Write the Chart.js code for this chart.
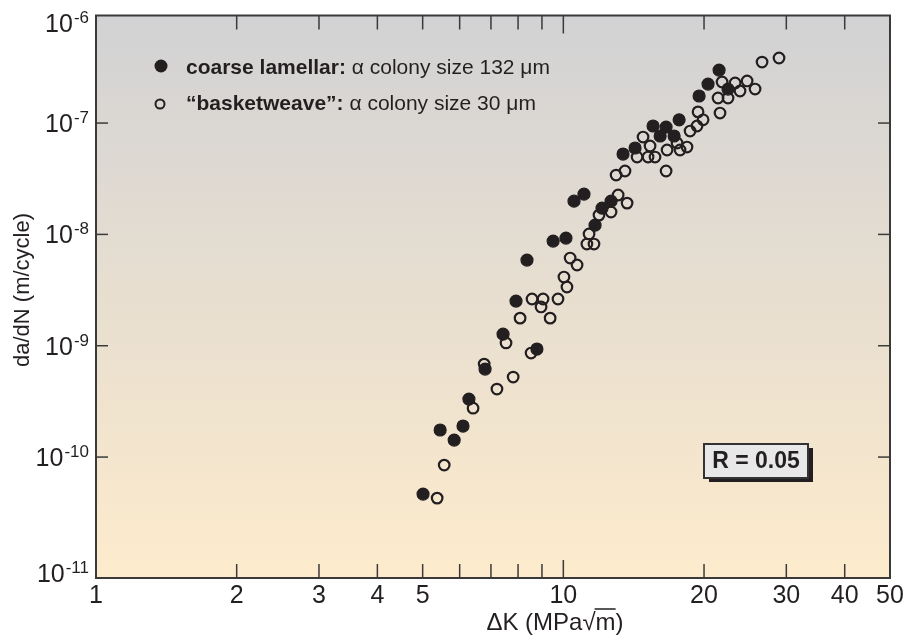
<!DOCTYPE html>
<html>
<head>
<meta charset="utf-8">
<script src="https://cdn.jsdelivr.net/npm/chart.js@4.4.0/dist/chart.umd.min.js"></script>
<style>
  body { margin: 0; background: #fff; }
  #wrap { width: 909px; height: 641px; }
</style>
</head>
<body>
<div id="wrap"><canvas id="crackChart"></canvas></div>
<script>
// coarse lamellar (filled)
const coarseK = [5.01, 5.45, 5.84, 6.10, 6.28, 6.80, 7.43, 8.78, 7.92, 8.36, 9.51, 10.13, 10.54, 11.07,
    11.69, 12.10, 12.65, 13.42, 14.24, 15.56, 16.59, 16.11, 17.26, 17.69, 19.52, 20.40, 21.54, 22.51];
const coarseRate = [4.65e-11, 1.75e-10, 1.42e-10, 1.90e-10, 3.32e-10, 6.17e-10, 1.27e-9, 9.34e-10, 2.52e-9,
    5.88e-9, 8.71e-9, 9.27e-9, 1.99e-8, 2.30e-8, 1.21e-8, 1.72e-8, 1.99e-8, 5.27e-8, 5.97e-8, 9.41e-8,
    9.21e-8, 7.65e-8, 7.65e-8, 1.07e-7, 1.75e-7, 2.24e-7, 2.99e-7, 2.02e-7];

// basketweave (open)
const basketK = [5.37, 5.56, 6.41, 6.77, 7.21, 7.54, 7.81, 8.53, 8.08, 9.37, 8.57, 9.05, 8.96, 9.74, 10.03,
    10.18, 10.34, 10.70, 11.23, 11.63, 11.35, 11.92, 12.65, 13.10, 13.69, 12.97, 13.55, 14.38, 15.18, 15.71,
    15.33, 14.81, 16.67, 17.77, 17.51, 18.39, 16.59, 18.67, 19.32, 19.91, 19.42, 21.64, 21.43, 22.51, 21.86,
    23.31, 24.73, 23.88, 25.72, 26.62, 28.94];
const basketRate = [4.28e-11, 8.47e-11, 2.75e-10, 6.84e-10, 4.08e-10, 1.06e-9, 5.23e-10, 8.60e-10, 1.77e-9,
    1.77e-9, 2.63e-9, 2.63e-9, 2.23e-9, 2.63e-9, 4.14e-9, 3.37e-9, 6.13e-9, 5.31e-9, 8.19e-9, 8.19e-9,
    1.01e-8, 1.49e-8, 1.59e-8, 2.26e-8, 1.91e-8, 3.41e-8, 3.71e-8, 4.95e-8, 4.95e-8, 4.95e-8, 6.22e-8,
    7.49e-8, 5.73e-8, 5.73e-8, 6.62e-8, 6.09e-8, 3.71e-8, 8.48e-8, 9.41e-8, 1.07e-7, 1.26e-7, 1.23e-7,
    1.68e-7, 1.68e-7, 2.34e-7, 2.29e-7, 2.39e-7, 1.94e-7, 2.02e-7, 3.53e-7, 3.84e-7];

const xLabelValues = [1, 2, 3, 4, 5, 10, 20, 30, 40, 50];
const xTickMarks = [2, 3, 4, 5, 6, 7, 8, 9, 10, 20, 30, 40];
const yExponents = [-6, -7, -8, -9, -10, -11];
const yMin = 8.2e-12;
const yMax = 9.25e-7;

const legendBold = ['coarse lamellar:', '\u201cbasketweave\u201d:'];
const legendRest = [' \u03b1 colony size 132 \u03bcm', ' \u03b1 colony size 30 \u03bcm'];
const rText = 'R = 0.05';
const xTitle = ['\u0394K (MPa', '\u221a', 'm', ')'];
const yTitle = 'da/dN (m/cycle)';

const ink = '#231f20';
const fam = '"Liberation Sans", Arial, sans-serif';
Chart.defaults.font.family = fam;

function line(ctx, x1, y1, x2, y2) {
    ctx.beginPath();
    ctx.moveTo(x1, y1);
    ctx.lineTo(x2, y2);
    ctx.stroke();
}

const decorations = {
    id: 'decorations',
    beforeDraw(chart) {
        const { ctx, chartArea: a } = chart;
        const g = ctx.createLinearGradient(0, a.top, 0, a.bottom);
        g.addColorStop(0, '#d2d2d4');
        g.addColorStop(1, '#fdebcc');
        ctx.save();
        ctx.fillStyle = g;
        ctx.fillRect(a.left, a.top, a.right - a.left, a.bottom - a.top);
        ctx.restore();
    },
    afterDraw(chart) {
        const { ctx, chartArea: a } = chart;
        const xs = chart.scales.x, ys = chart.scales.y;
        ctx.save();

        // frame
        ctx.strokeStyle = '#3a3a3a';
        ctx.lineWidth = 2;
        ctx.strokeRect(a.left, a.top, a.right - a.left, a.bottom - a.top);

        // inward ticks
        ctx.lineWidth = 1.5;
        xTickMarks.forEach(v => {
            const len = v === 10 ? 18 : 14;
            const px = xs.getPixelForValue(v);
            line(ctx, px, a.bottom, px, a.bottom - len);
            line(ctx, px, a.top, px, a.top + len);
        });
        yExponents.forEach(e => {
            const py = ys.getPixelForValue(Math.pow(10, e));
            if (py < a.top + 12 || py > a.bottom - 12) return;
            line(ctx, a.left, py, a.left + 12, py);
            line(ctx, a.right, py, a.right - 12, py);
        });

        // y labels 10^n, the end ones pinned inside the frame
        ctx.fillStyle = ink;
        ctx.textAlign = 'right';
        ctx.textBaseline = 'alphabetic';
        yExponents.forEach(e => {
            let cy = ys.getPixelForValue(Math.pow(10, e));
            if (cy < a.top + 12) cy = a.top + 7;
            if (cy > a.bottom - 12) cy = a.bottom - 5;
            const sup = String(e);
            ctx.font = '17px ' + fam;
            const supW = ctx.measureText(sup).width;
            ctx.fillText(sup, 89, cy);
            ctx.font = '25px ' + fam;
            ctx.fillText('10', 89 - supW - 1, cy + 9);
        });

        // legend
        ctx.textAlign = 'left';
        ctx.beginPath();
        ctx.arc(161, 66, 6.5, 0, Math.PI * 2);
        ctx.fill();
        ctx.strokeStyle = ink;
        ctx.lineWidth = 2;
        ctx.beginPath();
        ctx.arc(160, 104, 4.5, 0, Math.PI * 2);
        ctx.stroke();
        [73.5, 109.5].forEach((by, i) => {
            ctx.font = 'bold 21px ' + fam;
            ctx.fillText(legendBold[i], 186, by);
            const w = ctx.measureText(legendBold[i]).width;
            ctx.font = '21px ' + fam;
            ctx.fillText(legendRest[i], 186 + w, by);
        });

        // R box
        const bx = 704, by = 444, bw = 104, bh = 34;
        ctx.fillStyle = ink;
        ctx.fillRect(bx + 5, by + 4, bw, bh);
        ctx.fillStyle = '#e8e8e8';
        ctx.fillRect(bx, by, bw, bh);
        ctx.strokeStyle = '#333';
        ctx.lineWidth = 2;
        ctx.strokeRect(bx, by, bw, bh);
        ctx.fillStyle = ink;
        ctx.font = 'bold 23px ' + fam;
        ctx.textAlign = 'center';
        ctx.textBaseline = 'middle';
        ctx.fillText(rText, bx + bw / 2, by + bh / 2 + 1);

        // x title with radical
        ctx.font = '24px ' + fam;
        ctx.textAlign = 'left';
        ctx.textBaseline = 'alphabetic';
        const widths = xTitle.map(t => ctx.measureText(t).width);
        const total = widths.reduce((s, w) => s + w, 0);
        let tx = 555 - total / 2;
        const base = 630;
        xTitle.forEach((t, i) => {
            ctx.fillText(t, tx, base);
            if (i === 2) {
                ctx.lineWidth = 1.5;
                ctx.strokeStyle = ink;
                line(ctx, tx - 1, base - 21, tx + widths[i], base - 21);
            }
            tx += widths[i];
        });

        // y title
        ctx.translate(28.5, 290);
        ctx.rotate(-Math.PI / 2);
        ctx.font = '22px ' + fam;
        ctx.textAlign = 'center';
        ctx.fillText(yTitle, 0, 0);
        ctx.restore();
    }
};

document.addEventListener('DOMContentLoaded', function() {
    const ctx = document.getElementById('crackChart').getContext('2d');
    new Chart(ctx, {
        type: 'scatter',
        data: {
            datasets: [{
                label: 'coarse lamellar',
                data: coarseK.map((k, i) => ({ x: k, y: coarseRate[i] })),
                backgroundColor: ink,
                borderColor: ink,
                borderWidth: 1.2,
                pointRadius: 6
            }, {
                label: 'basketweave',
                data: basketK.map((k, i) => ({ x: k, y: basketRate[i] })),
                backgroundColor: 'rgba(0,0,0,0)',
                borderColor: ink,
                borderWidth: 2.2,
                pointRadius: 5.3
            }]
        },
        options: {
            responsive: true,
            maintainAspectRatio: false,
            animation: false,
            layout: { padding: { top: 15.5, right: 19, left: 0, bottom: 0 } },
            plugins: { legend: { display: false }, tooltip: { enabled: false } },
            scales: {
                x: {
                    type: 'logarithmic',
                    min: 1,
                    max: 50,
                    grid: { display: false, drawTicks: false },
                    border: { display: false },
                    afterBuildTicks: s => { s.ticks = xLabelValues.map(v => ({ value: v })); },
                    afterFit: s => { s.height = 63; },
                    ticks: {
                        autoSkip: false,
                        maxRotation: 0,
                        padding: 3,
                        color: ink,
                        font: { size: 25 },
                        callback: v => String(v)
                    }
                },
                y: {
                    type: 'logarithmic',
                    min: yMin,
                    max: yMax,
                    grid: { display: false, drawTicks: false },
                    border: { display: false },
                    ticks: { display: false },
                    afterFit: s => { s.width = 96; }
                }
            }
        },
        plugins: [decorations]
    });
});
</script>
</body>
</html>
